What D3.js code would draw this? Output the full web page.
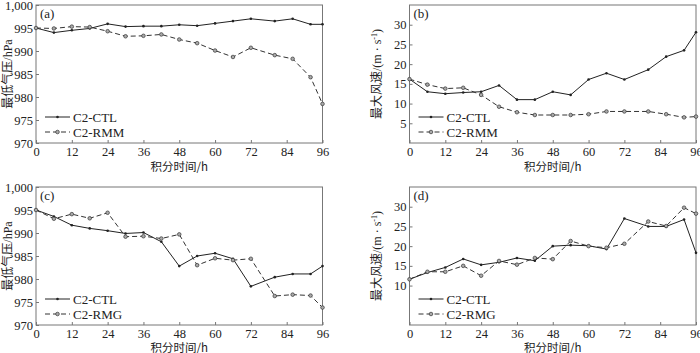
<!DOCTYPE html>
<html>
<head>
<meta charset="utf-8">
<script src="https://cdn.jsdelivr.net/npm/d3@7"></script>
<style>
  body { margin: 0; background: #fff; }
  svg text { font-family: "Liberation Serif", "Times New Roman", serif; fill: #222; }
  .cjk { font-family: "Noto Sans CJK SC", sans-serif; }
</style>
</head>
<body>
<div id="chart"></div>
<script>
// time steps (h)
var hours = [0, 6, 12, 18, 24, 30, 36, 42, 48, 54, 60, 66, 72, 80, 86, 92, 96];
var xTicks = [0, 12, 24, 36, 48, 60, 72, 84, 96];

// (a) minimum pressure, CTL vs RMM
var presCtlA = [995.0, 994.0, 994.5, 994.9, 995.9, 995.3, 995.4, 995.4, 995.7, 995.5, 996.0, 996.5, 997.0, 996.5, 997.0, 995.8, 995.8];
var presRmm = [995.0, 994.9, 995.3, 995.2, 994.3, 993.2, 993.3, 993.6, 992.5, 991.7, 990.1, 988.7, 990.7, 989.1, 988.3, 984.3, 978.5];

// (b) maximum wind, CTL vs RMM
var windCtlB = [16.2, 13.0, 12.5, 12.8, 13.0, 14.6, 11.0, 11.0, 13.0, 12.2, 16.1, 17.7, 16.1, 18.6, 21.9, 23.5, 28.1];
var windRmm = [16.2, 14.8, 13.8, 14.0, 12.2, 9.2, 7.8, 7.1, 7.1, 7.1, 7.3, 8.0, 8.0, 8.0, 7.3, 6.5, 6.7];

// (c) minimum pressure, CTL vs RMG
var presCtlC = [995.0, 993.6, 991.7, 991.0, 990.5, 989.9, 990.1, 988.1, 982.8, 985.0, 985.6, 984.4, 978.4, 980.4, 981.1, 981.1, 982.8];
var presRmg = [995.0, 993.1, 994.1, 993.2, 994.4, 989.2, 989.3, 988.8, 989.7, 983.0, 984.5, 984.1, 984.4, 976.3, 976.6, 976.4, 973.8];

// (d) maximum wind, CTL vs RMG
var windCtlD = [11.6, 13.3, 14.6, 16.75, 15.25, 15.9, 17.0, 16.3, 20.0, 20.25, 20.1, 19.25, 27.0, 25.0, 25.0, 26.75, 18.3];
var windRmg = [11.6, 13.5, 13.5, 15.0, 12.5, 16.25, 15.3, 17.0, 16.7, 21.3, 20.0, 19.6, 20.6, 26.25, 25.1, 29.75, 28.25];

var presTicks = [970, 975, 980, 985, 990, 995, 1000];
var windTicksB = [5, 10, 15, 20, 25, 30];
var windTicksD = [10, 15, 20, 25, 30];

var xLabel = "积分时间/h";

var svg = d3.select("#chart").append("svg")
    .attr("width", 700)
    .attr("height", 353);

var panels = [
  { tag: "(a)", left: 36, top: 5, yDomain: [970, 1000], yTicks: presTicks, ylabel: "pres",
    ctl: presCtlA, exp: presRmm, expName: "C2-RMM", xlab: 171 },
  { tag: "(b)", left: 409.5, top: 5, yDomain: [0, 35], yTicks: windTicksB, ylabel: "wind",
    ctl: windCtlB, exp: windRmm, expName: "C2-RMM", xlab: 171 },
  { tag: "(c)", left: 36, top: 187, yDomain: [970, 1000], yTicks: presTicks, ylabel: "pres",
    ctl: presCtlC, exp: presRmg, expName: "C2-RMG", xlab: 352 },
  { tag: "(d)", left: 409.5, top: 187, yDomain: [0, 35], yTicks: windTicksD, ylabel: "wind",
    ctl: windCtlD, exp: windRmg, expName: "C2-RMG", xlab: 352 }
];

var pw = 286.5, ph = 138;

panels.forEach(function (p) {
  var g = svg.append("g").attr("transform", `translate(${p.left},${p.top})`);

  var x = d3.scaleLinear().domain([0, 96]).range([0, pw]);
  var y = d3.scaleLinear().domain(p.yDomain).range([ph, 0]);

  // frame
  g.append("rect")
      .attr("width", pw).attr("height", ph)
      .attr("fill", "none").attr("stroke", "#777").attr("stroke-width", 1);

  // axes with inward ticks
  var xa = g.append("g").attr("transform", `translate(0,${ph})`)
      .call(d3.axisBottom(x).tickValues(xTicks).tickSizeInner(-3).tickSizeOuter(0).tickPadding(4));
  var ya = g.append("g")
      .call(d3.axisLeft(y).tickValues(p.yTicks).tickSizeInner(-3).tickSizeOuter(0).tickPadding(3));
  [xa, ya].forEach(function (a) {
    a.select(".domain").remove();
    a.selectAll("line").attr("stroke", "#777");
    a.selectAll("text").style("font-size", "12.5px")
      .style("font-family", "'Liberation Serif', serif").attr("fill", "#222");
  });

  // x label
  g.append("text")
      .attr("class", "cjk")
      .attr("x", pw / 2).attr("y", p.xlab - p.top)
      .attr("text-anchor", "middle")
      .style("font-size", "11.5px")
      .text(xLabel);

  // y label
  var yl = g.append("text")
      .attr("transform", `translate(${p.ylabel === "pres" ? -24.5 : -29},${ph / 2}) rotate(-90)`)
      .attr("text-anchor", "middle")
      .style("font-size", "12px");
  if (p.ylabel === "pres") {
    yl.append("tspan").attr("class", "cjk").text("最低气压");
    yl.append("tspan").text("/hPa");
  } else {
    yl.append("tspan").attr("class", "cjk").text("最大风速");
    yl.append("tspan").text("/(m · s");
    yl.append("tspan").attr("dy", -4).style("font-size", "8px").text("-1");
    yl.append("tspan").attr("dy", 4).text(")");
  }

  // panel tag
  g.append("text")
      .attr("x", 4).attr("y", 13)
      .style("font-size", "13px")
      .text(p.tag);

  var line = d3.line()
      .x(function (d, i) { return x(hours[i]); })
      .y(function (d) { return y(d); });

  // CTL solid
  g.append("path").datum(p.ctl)
      .attr("d", line).attr("fill", "none")
      .attr("stroke", "#222").attr("stroke-width", 1);
  g.selectAll(".ctlpt").data(p.ctl).enter().append("circle")
      .attr("cx", function (d, i) { return x(hours[i]); })
      .attr("cy", function (d) { return y(d); })
      .attr("r", 1.3).attr("fill", "#222");

  // experiment dashed
  g.append("path").datum(p.exp)
      .attr("d", line).attr("fill", "none")
      .attr("stroke", "#333").attr("stroke-width", 1)
      .attr("stroke-dasharray", "5,3");
  g.selectAll(".exppt").data(p.exp).enter().append("circle")
      .attr("cx", function (d, i) { return x(hours[i]); })
      .attr("cy", function (d) { return y(d); })
      .attr("r", 1.8).attr("fill", "#aaa").attr("stroke", "#333").attr("stroke-width", 0.7);

  // legend
  var lg = g.append("g").attr("transform", `translate(9,${ph - 26})`);
  lg.append("line").attr("x1", 0).attr("x2", 25).attr("y1", 0).attr("y2", 0)
      .attr("stroke", "#222");
  lg.append("circle").attr("cx", 12.5).attr("cy", 0).attr("r", 1.3).attr("fill", "#222");
  lg.append("text").attr("x", 28).attr("y", 4.5).style("font-size", "13px").text("C2-CTL");
  lg.append("line").attr("x1", 0).attr("x2", 25).attr("y1", 15).attr("y2", 15)
      .attr("stroke", "#333").attr("stroke-dasharray", "5,3");
  lg.append("circle").attr("cx", 12.5).attr("cy", 15).attr("r", 1.8)
      .attr("fill", "#aaa").attr("stroke", "#333").attr("stroke-width", 0.7);
  lg.append("text").attr("x", 28).attr("y", 19.5).style("font-size", "13px").text(p.expName);
});
</script>
</body>
</html>
